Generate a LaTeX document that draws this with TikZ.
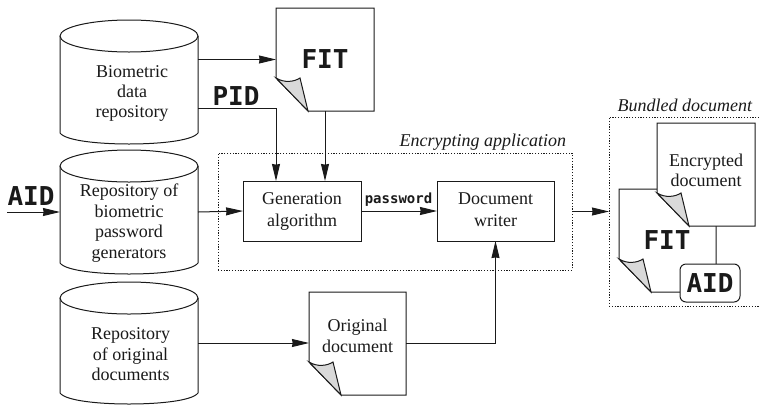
\documentclass[tikz,border=0pt]{standalone}
\usepackage{fontspec}
\setmainfont{Liberation Serif}
\newfontfamily\monofam{DejaVu Sans Mono}
\usetikzlibrary{arrows.meta,calc}
\definecolor{ink}{HTML}{1A1A1A}
\definecolor{flapgray}{HTML}{D9D9D9}
\tikzset{
  every node/.style={inner sep=0pt,outer sep=0pt,text=ink},
  line/.style={draw=ink,line width=1pt},
  flow/.style={line,-{Stealth[length=17pt,width=8pt,inset=0.6pt]}},
  frame/.style={draw=ink,line width=1pt,dash pattern=on 1.2pt off 1.6pt},
  lbl/.style={align=center,font=\fontsize{18}{20.4}\selectfont},
  captext/.style={font=\fontsize{18}{20}\selectfont\itshape},
  bigmono/.style={font=\fontsize{26}{28}\selectfont\monofam\bfseries},
  procbox/.style={line,minimum width=118pt,minimum height=60pt,align=center,font=\fontsize{18}{21.5}\selectfont}
}
% name, xL, yTop, width, height
\newcommand{\pagedoc}[5]{%
  \path[line,fill=white] (#2,#3) -- ++(#4,0) -- ++(0,#5) -- ++({-(#4)+32},0) -- ++(-32,-33) -- cycle;
  \path[line,fill=flapgray] (#2,{#3+#5-33}) .. controls ({#2+8},{#3+#5-28}) and ({#2+18},{#3+#5-29}) .. ({#2+24},{#3+#5-33}) -- ({#2+32},{#3+#5}) -- cycle;
  \node[minimum width=#4 pt,minimum height=#5 pt] (#1) at ({#2+(#4)/2},{#3+(#5)/2}) {};
}
% name, yTop, yBottom
\newcommand{\repo}[3]{%
  \path[line,fill=white] (60,{#2+16}) -- (60,{#3-11}) .. controls (66,{#3-3}) and (100,#3) .. (129,#3) .. controls (158,#3) and (192,{#3-3}) .. (198,{#3-11}) -- (198,{#2+16});
  \path[line,fill=white] (129,{#2+16}) ellipse [x radius=69,y radius=16];
  \pgfmathsetmacro{\repoh}{#3-(#2)}
  \node[minimum width=138pt,minimum height=\repoh pt] (#1) at (129,{(#2+#3)/2}) {};
}
\begin{document}
\begin{tikzpicture}[x=1pt,y=-1pt]
\useasboundingbox (0,0) rectangle (759,405);

\repo{bio}{20}{144}
\repo{gens}{150}{274}
\repo{orig}{282}{404}
\node[lbl] (biotext) at (132,93.5) {Biometric\\data\\repository};
\node[lbl] (gentext) at (129,223) {Repository of\\biometric\\password\\generators};
\node[lbl] (origtext) at (130.5,354.5) {Repository\\of original\\documents};

\pagedoc{fit}{276}{8}{98}{103}
\node[bigmono] (fittext) at (325,59) {FIT};
\pagedoc{odoc}{309}{292}{97}{103}
\node[lbl] (odoctext) at (357.5,336) {Original\\document};

\node[frame,minimum width=354pt,minimum height=117pt] (enc) at (395,211.5) {};
\node[captext,anchor=east] (enccap) at (566,142) {Encrypting application};
\node[procbox] (gen) at (302,211) {\strut Generation\\\strut algorithm};
\node[procbox,minimum width=117pt] (wri) at (495.5,211) {\strut Document\\\strut writer};

\node[frame,minimum width=150pt,minimum height=189pt] (bun) at (684,211.5) {};
\node[captext,anchor=east] (buncap) at (752,105) {Bundled document};
\pagedoc{bfit}{619}{189}{97}{103}
\node[bigmono] (bfittext) at (667,240) {FIT};
\pagedoc{benc}{657}{123}{98}{103}
\node[lbl] (benctext) at (706,170.5) {Encrypted\\document};
\node[line,fill=white,rounded corners=6pt,minimum width=60pt,minimum height=38pt,bigmono] (baid) at (710,283) {AID};

\node[bigmono] (pid) at (236,96) {PID};
\node[bigmono] (aid) at (31,196) {AID};
\node[font=\fontsize{14}{16}\selectfont\monofam\bfseries] (pw) at (398.5,200) {password};
\coordinate (aidin) at (7,212);
\coordinate (pidin) at ([xshift=-26pt]gen.north);

\draw[flow] (bio.east |- fit.west) -- (fit.west);
\draw[flow] ([yshift=-26pt]bio.east) -| (pidin);
\draw[flow] (fit.south) -- (gen.north -| fit.south);
\draw[flow] (aidin) -- (aidin -| gens.west);
\draw[flow] (gens.east) -- (gen.west);
\draw[flow] (gen.east) -- (wri.west);
\draw[flow] (orig.east) -- (orig.east -| odoc.west);
\draw[flow] (odoc.east) -| (wri.south);
\draw[flow] (enc.east) -- (bun.west);
\end{tikzpicture}
\end{document}
